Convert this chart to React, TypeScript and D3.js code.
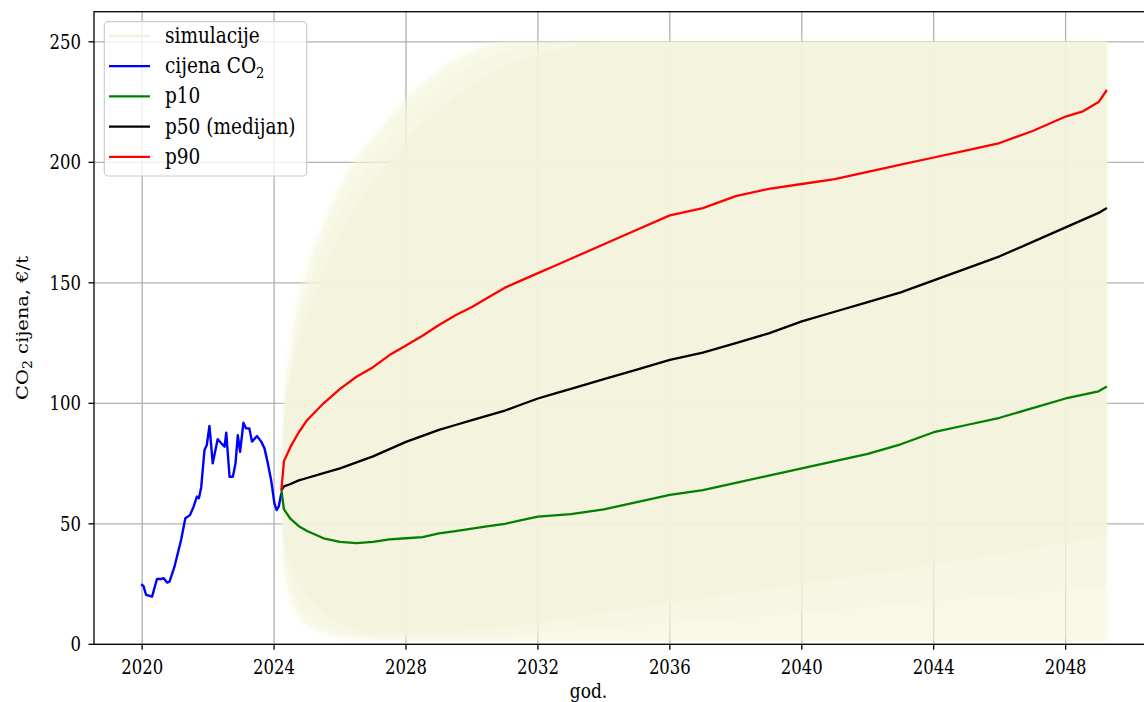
import React from "react";
import * as d3 from "d3";

// ---- data ----
const histYears = [2019.97, 2020.04, 2020.12, 2020.3, 2020.45, 2020.57, 2020.65, 2020.76, 2020.83, 2020.98, 2021.18, 2021.31, 2021.45, 2021.56, 2021.66, 2021.72, 2021.79, 2021.89, 2021.96, 2022.04, 2022.14, 2022.29, 2022.4, 2022.5, 2022.55, 2022.65, 2022.75, 2022.83, 2022.9, 2022.97, 2023.07, 2023.15, 2023.25, 2023.33, 2023.48, 2023.61, 2023.71, 2023.81, 2023.91, 2024.01, 2024.08, 2024.14, 2024.22];
const histPrice = [24.9, 24.2, 20.5, 19.8, 27.1, 27.1, 27.4, 25.6, 26.0, 32.2, 43.3, 52.3, 53.6, 57.1, 61.3, 60.6, 65.1, 80.6, 82.7, 90.6, 75.1, 85.1, 83.4, 82.0, 87.8, 69.5, 69.5, 75.0, 86.8, 79.9, 91.9, 89.6, 89.6, 84.1, 86.4, 84.1, 81.3, 75.1, 68.2, 58.5, 55.7, 57.1, 62.7];

const pctYears = [2024.22, 2024.3, 2024.5, 2024.75, 2025, 2025.5, 2026, 2026.5, 2027, 2027.5, 2028, 2028.5, 2029, 2029.5, 2030, 2030.5, 2031, 2031.5, 2032, 2032.5, 2033, 2034, 2035, 2036, 2037, 2038, 2039, 2040, 2041, 2042, 2043, 2044, 2045, 2046, 2047, 2048, 2048.5, 2049, 2049.25];
const p90 = [64, 76, 82, 88, 93, 100, 106, 111, 115, 120, 124, 128, 132.5, 136.5, 140, 144, 148, 151, 154, 157, 160, 166, 172, 178, 181, 186, 189, 191, 193, 196, 199, 202, 205, 208, 213, 219, 221, 225, 230];
const p50 = [64, 65.5, 66.5, 68, 69, 71, 73, 75.5, 78, 81, 84, 86.5, 89, 91, 93, 95, 97, 99.5, 102, 104, 106, 110, 114, 118, 121, 125, 129, 134, 138, 142, 146, 151, 156, 161, 167, 173, 176, 179, 181];
const p10 = [64, 56, 52, 49, 47, 44, 42.5, 42, 42.5, 43.5, 44, 44.5, 46, 47, 48, 49, 50, 51.5, 53, 53.5, 54, 56, 59, 62, 64, 67, 70, 73, 76, 79, 83, 88, 91, 94, 98, 102, 103.5, 105, 107];

const bandYears = [2024.22, 2024.3, 2024.5, 2024.75, 2025, 2025.5, 2026, 2027, 2028, 2029, 2030, 2031, 2032, 2033, 2034, 2036, 2040, 2044, 2049.25];
const outerUpper = [64, 100, 122, 142, 155, 174, 190, 210, 226, 238, 246, 250, 250, 250, 250, 250, 250, 250, 250];
const outerLower = [60, 32, 20, 12, 8, 5, 3, 2, 1.5, 1.5, 1.5, 1.5, 1.5, 1.5, 1.5, 1.5, 1.5, 1.5, 1.5];
const midUpper = [64, 96, 116, 134, 146, 165, 180, 201, 218, 230, 240, 246, 249, 250, 250, 250, 250, 250, 250];
const midLower = [61, 38, 26, 18, 14, 9, 6, 3.5, 3, 3, 3.5, 4, 5, 6, 7, 9, 13, 18, 24];
const innerUpper = [64, 92, 110, 126, 138, 155, 170, 192, 209, 222, 232, 240, 245, 248, 250, 250, 250, 250, 250];
const innerLower = [62, 44, 33, 25, 20, 13, 9, 5, 5, 5, 6, 7, 9, 11, 13, 17, 25, 33, 45];

const xTicks = [2020, 2024, 2028, 2032, 2036, 2040, 2044, 2048];
const yTicks = [0, 50, 100, 150, 200, 250];

const legendItems = [
  { label: "simulacije", color: "#f3f2dc" },
  { label: "cijena CO", sub: "2", color: "#0000ff" },
  { label: "p10", color: "#008000" },
  { label: "p50 (medijan)", color: "#000000" },
  { label: "p90", color: "#ff0000" },
];

const W = 1144;
const H = 702;
const L = 94, R = 1155, T = 11.7, B = 644.3;
const FONT = "'DejaVu Serif', serif";
const SY = 1.18; // the reference is slightly stretched vertically

export default function App() {
  const x = d3.scaleLinear().domain([2018.54, 2050.71]).range([L, R]);
  const y = d3.scaleLinear().domain([0, 262.5]).range([B, T]);

  const line = (xs: number[], ys: number[]) =>
    d3.line<number>().x((_, i) => x(xs[i])).y((v) => y(v))(ys) || "";

  const area = (up: number[], lo: number[]) =>
    d3
      .area<number>()
      .curve(d3.curveMonotoneX)
      .x((_, i) => x(bandYears[i]))
      .y0((_, i) => y(lo[i]))
      .y1((v) => y(v))(up) || "";

  const tf = (tx: number, ty: number) => `translate(${tx},${ty}) scale(1,${SY})`;

  return (
    <svg width={W} height={H} style={{ position: "absolute", left: 0, top: 0, background: "#fff" }} fontFamily={FONT}>
      <defs>
        <clipPath id="plot">
          <rect x={L} y={T} width={R - L} height={B - T} />
        </clipPath>
        <filter id="blur" x="-5%" y="-5%" width="110%" height="110%">
          <feGaussianBlur stdDeviation="4" />
        </filter>
      </defs>
      <rect x={0} y={0} width={W} height={H} fill="#fff" />
      {/* grid */}
      <g stroke="#b0b0b0" strokeWidth={1.3}>
        {xTicks.map((t) => (
          <line key={"gx" + t} x1={x(t)} x2={x(t)} y1={T} y2={B} />
        ))}
        {yTicks.map((t) => (
          <line key={"gy" + t} x1={L} x2={R} y1={y(t)} y2={y(t)} />
        ))}
      </g>
      {/* simulations band */}
      <g clipPath="url(#plot)">
        <path d={area(outerUpper, outerLower)} fill="#f5f5dc" opacity={0.55} filter="url(#blur)" />
        <path d={area(outerUpper, outerLower)} fill="#f5f5dc" opacity={0.3} />
        <path d={area(midUpper, midLower)} fill="#f4f3dc" opacity={0.4} />
        <path d={area(innerUpper, innerLower)} fill="#f3f2dc" opacity={0.8} />
        <path d={line(histYears, histPrice)} fill="none" stroke="#0000ff" strokeWidth={2.4} strokeLinejoin="round" />
        <path d={line(pctYears, p10)} fill="none" stroke="#008000" strokeWidth={2.3} strokeLinejoin="round" />
        <path d={line(pctYears, p50)} fill="none" stroke="#000000" strokeWidth={2.3} strokeLinejoin="round" />
        <path d={line(pctYears, p90)} fill="none" stroke="#ff0000" strokeWidth={2.3} strokeLinejoin="round" />
      </g>
      {/* spines */}
      <rect x={L} y={T} width={R - L} height={B - T} fill="none" stroke="#000" strokeWidth={1.3} />
      {/* x ticks */}
      {xTicks.map((t) => (
        <g key={"xt" + t}>
          <line x1={x(t)} x2={x(t)} y1={B} y2={B + 5.5} stroke="#000" strokeWidth={1.3} />
          <text transform={tf(x(t), B + 30)} textAnchor="middle" fontSize={16.5} fill="#000">
            {t}
          </text>
        </g>
      ))}
      {yTicks.map((t) => (
        <g key={"yt" + t}>
          <line x1={L - 5.5} x2={L} y1={y(t)} y2={y(t)} stroke="#000" strokeWidth={1.3} />
          <text transform={tf(L - 13, y(t) + 7)} textAnchor="end" fontSize={16.5} fill="#000">
            {t}
          </text>
        </g>
      ))}
      <text transform={tf((L + R) / 2 - 36, 698)} textAnchor="middle" fontSize={17} fill="#000">
        god.
      </text>
      <g transform={`translate(0, ${(T + B) / 2}) scale(1, ${SY})`}>
        <text transform="translate(28, 0) rotate(-90)" textAnchor="middle" fontSize={16.5} fill="#000">
          CO<tspan fontSize={12} dy={4}>2</tspan>
          <tspan dy={-4}> cijena, €/t</tspan>
        </text>
      </g>
      {/* legend */}
      <g>
        <rect x={104.3} y={21.7} width={202.4} height={154.3} rx={4} fill="#fff" fillOpacity={0.8} stroke="#cccccc" strokeWidth={1.2} />
        {legendItems.map((it, i) => {
          const cy = 36 + i * 30.2;
          return (
            <g key={it.label}>
              <line x1={109} x2={150} y1={cy} y2={cy} stroke={it.color} strokeWidth={2.3} />
              <text transform={tf(165, cy + 7)} fontSize={18.5} fill="#000">
                {it.label}
                {it.sub ? (
                  <tspan fontSize={13} dy={4}>
                    {it.sub}
                  </tspan>
                ) : null}
              </text>
            </g>
          );
        })}
      </g>
    </svg>
  );
}
